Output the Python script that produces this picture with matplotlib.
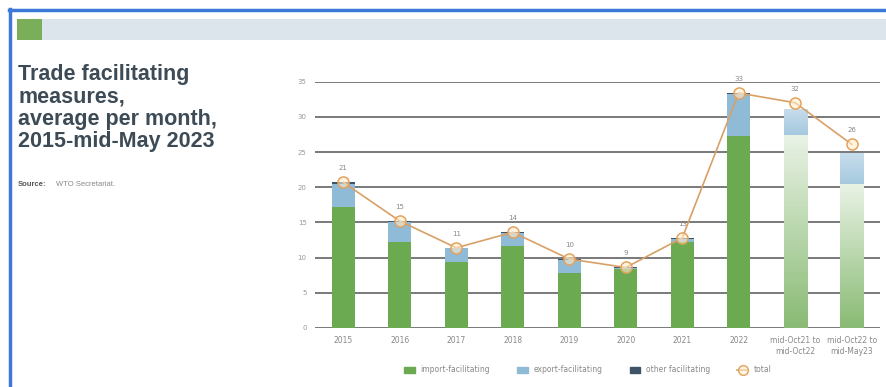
import numpy as np
import matplotlib
matplotlib.use("Agg")
import matplotlib.pyplot as plt
from matplotlib.patches import Rectangle, Patch
from matplotlib.lines import Line2D
from matplotlib.colors import to_rgb

# ---------------- data ----------------
categories = ["2015", "2016", "2017", "2018", "2019", "2020", "2021", "2022",
              "mid-Oct21 to\nmid-Oct22", "mid-Oct22 to\nmid-May23"]
import_fac = [17.2, 12.2, 9.4, 11.7, 7.8, 8.4, 12.2, 27.3, 27.4, 20.5]
export_fac = [3.3, 2.8, 2.0, 1.8, 1.8, 0.1, 0.4, 5.9, 3.7, 4.4]
other_fac = [0.2, 0.2, 0.0, 0.1, 0.2, 0.1, 0.2, 0.2, 0.0, 0.0]
total = [20.7, 15.2, 11.4, 13.6, 9.8, 8.6, 12.8, 33.4, 32.0, 26.1]
faded = [False] * 8 + [True, True]
yticks = [0, 5, 10, 15, 20, 25, 30, 35]

GREEN = "#6caa52"
BLUE = "#8fbbd7"
DARK = "#3e5468"
ORANGE = "#d9a066"
TITLE_C = "#3d4b56"

W, H = 886, 387
fig = plt.figure(figsize=(W / 100, H / 100), dpi=100)
fig.patch.set_facecolor("white")

def fx(px):
    return px / W

def fy(py):
    return 1 - py / H

# header band & border
fig.patches.append(Rectangle((fx(17), fy(40)), fx(886 - 17), (40 - 19) / H,
                             transform=fig.transFigure, facecolor="#dce5ec",
                             edgecolor="none", zorder=0))
fig.patches.append(Rectangle((fx(17), fy(40)), fx(25), (40 - 19) / H,
                             transform=fig.transFigure, facecolor="#7aae59",
                             edgecolor="none", zorder=1))
fig.add_artist(Line2D([fx(10), fx(10)], [0, fy(9)], transform=fig.transFigure,
                      color="#3b78d8", lw=2.5))
fig.add_artist(Line2D([fx(9), 1], [fy(10), fy(10)], transform=fig.transFigure,
                      color="#3b78d8", lw=2.5))

# title
fig.text(fx(18), fy(64), "Trade facilitating\nmeasures,\naverage per month,\n2015-mid-May 2023",
         ha="left", va="top", fontsize=15.5, fontweight="bold", color=TITLE_C,
         family="Liberation Sans", linespacing=1.08)
fig.text(fx(18), fy(185), "Source:", ha="left", va="center", fontsize=5.5,
         fontweight="bold", color="#555555", family="Liberation Sans")
fig.text(fx(56), fy(185), "WTO Secretariat.", ha="left", va="center", fontsize=5.5,
         color="#888888", family="Liberation Sans")

# axes
ax = fig.add_axes([fx(315), 1 - 328 / H, fx(880 - 315), (328 - 81.7) / H])
x = np.arange(len(categories))
bw = 0.41

for y in yticks:
    ax.axhline(y, color="#555555", lw=1.1, zorder=0)

def light(c, f):
    r = np.array(to_rgb(c))
    return r + (1 - r) * f

for i in x:
    segs = [(import_fac[i], GREEN), (export_fac[i], BLUE), (other_fac[i], DARK)]
    bottom = 0
    for val, col in segs:
        if val <= 0:
            continue
        if not faded[i]:
            ax.bar(i, val, bw, bottom=bottom, color=col, zorder=2, linewidth=0)
        else:
            p = ax.bar(i, val, bw, bottom=bottom, color="white", zorder=2, linewidth=0)[0]
            n = 64
            t = np.linspace(0, 1, n)[:, None]  # 0 bottom -> 1 top
            if col == GREEN:
                c0, c1 = light(col, 0.2), light(col, 0.85)
            else:
                c0, c1 = light(col, 0.2), light(col, 0.5)
            grad = (c0[None, :] * (1 - t) + c1[None, :] * t)[:, None, :]
            im = ax.imshow(grad, extent=(i - bw / 2, i + bw / 2, bottom, bottom + val),
                           origin="lower", aspect="auto", zorder=2.5)
            im.set_clip_path(p)
        bottom += val

ax.plot(x, total, color=ORANGE, lw=1.2, zorder=4)
ax.plot(x, total, "o", ms=8, mfc=(1, 0.93, 0.8, 0.6), mec="#e3a25e", mew=1.1,
        zorder=5, clip_on=False)
for i in x:
    ax.annotate(f"{round(total[i])}", (i, total[i]), xytext=(0, 8),
                textcoords="offset points", ha="center", va="bottom",
                fontsize=5, color="#888888", annotation_clip=False)

ax.set_xlim(-0.5, len(categories) - 0.5)
ax.set_ylim(0, 35)
ax.set_yticks(yticks)
ax.set_yticklabels([str(v) for v in yticks])
ax.set_xticks(x)
ax.set_xticklabels(categories)
ax.tick_params(axis="both", length=0, labelsize=5, labelcolor="#999999")
ax.tick_params(axis="x", pad=6, labelsize=5.5, labelcolor="#888888")
ax.tick_params(axis="y", pad=6)
for s in ax.spines.values():
    s.set_visible(False)
ax.set_facecolor("none")

handles = [Patch(color=GREEN), Patch(color=BLUE), Patch(color=DARK),
           Line2D([], [], color=ORANGE, lw=1.2, marker="o", ms=7,
                  mfc=(1, 0.93, 0.8, 0.6), mec="#e3a25e")]
labels = ["import-facilitating", "export-facilitating", "other facilitating", "total"]
fig.legend(handles, labels, loc="center", bbox_to_anchor=(fx(588), fy(370)),
           ncol=4, frameon=False, fontsize=5.5, labelcolor="#888888",
           handlelength=1.4, handleheight=0.9, columnspacing=3.5, handletextpad=0.8)

fig.savefig("out.png", dpi=100, facecolor="white")
